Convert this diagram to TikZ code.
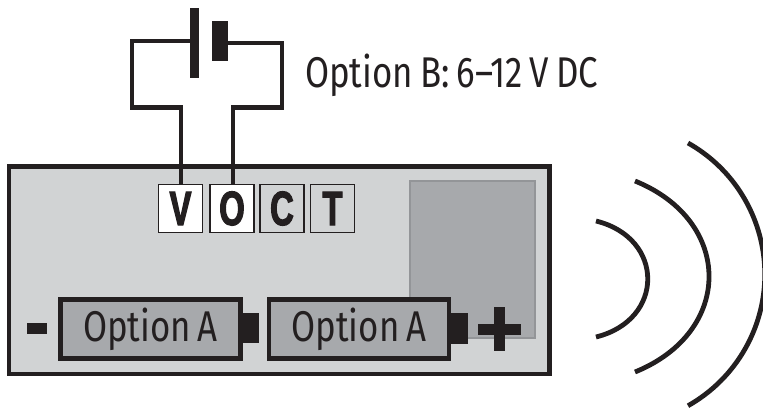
\documentclass[tikz,border=0pt]{standalone}
\usepackage{fontspec}
\setmainfont{Fira Sans}
\newfontfamily\labelfont[FakeStretch=0.81,WordSpace=0.75]{Fira Sans}
\newfontfamily\termfont[FakeStretch=0.68,FakeBold=2.5]{Liberation Sans Bold}
\definecolor{ink}{HTML}{231F20}
\definecolor{panel}{HTML}{D1D3D4}
\definecolor{cellgrey}{HTML}{A7A9AC}
\definecolor{edgegrey}{HTML}{939598}
\tikzset{
  wire/.style={draw=ink,line width=4.4pt,miter limit=10},
  solidblock/.style={fill=ink,draw=none,inner sep=0pt,rectangle},
  terminal/.style={rectangle,draw=ink,line width=1.6pt,minimum width=44pt,minimum height=48pt,inner sep=0pt,
     font=\termfont\fontsize{48}{48}\selectfont,text=ink},
  cell/.style={rectangle,draw=ink,fill=cellgrey,line width=4.6pt,minimum width=180pt,minimum height=59.5pt,inner sep=0pt,
     font=\labelfont\fontsize{43}{43}\selectfont,text=ink},
  wave/.style={draw=ink,line width=4.8pt}
}
\begin{document}
\begin{tikzpicture}[x=1pt,y=-1pt]
\useasboundingbox (0,0) rectangle (763,409);
% panel and window
\node[rectangle,draw=ink,fill=panel,line width=4.6pt,minimum width=540.5pt,minimum height=207.5pt,inner sep=0pt] (panel) at (279.25,270.25) {};
\node[rectangle,draw=edgegrey,fill=cellgrey,line width=1.8pt,minimum width=125pt,minimum height=157pt,inner sep=0pt] (window) at (472.5,259.5) {};
% terminals
\node[terminal,fill=white] (V) at (180.5,208.5) {V};
\node[terminal,fill=white] (O) at (232,208.5) {O};
\node[terminal,fill=panel] (C) at (282,208.5) {C};
\node[terminal,fill=panel] (T) at (332.5,208.5) {T};
% battery symbol
\node[solidblock,minimum width=9pt,minimum height=70pt] (plateL) at (194.5,43) {};
\node[solidblock,minimum width=16pt,minimum height=40pt] (plateR) at (220,41) {};
\coordinate (wl) at (plateL.west |- 0,41);
\coordinate (wr) at (plateR.east |- 0,43);
\draw[wire] (wl) -- (132,41) -- (132,107.5) -- (181,107.5) -- (V.north -| 181,0);
\draw[wire] (wr) -- (282,43) -- (282,107.5) -- (233,107.5) -- (O.north -| 233,0);
\node[anchor=base west,inner sep=0pt,font=\labelfont\fontsize{43}{43}\selectfont,text=ink] (optB) at (305,88) {Option B: 6–12 V DC};
% option A cells
\node[cell] (cellA) at (150.5,329) {\raisebox{-3pt}{Option A}};
\node[solidblock,minimum width=18pt,minimum height=30pt] (nubA) at (250,328) {};
\node[cell] (cellB) at (359,329) {\raisebox{-3pt}{Option A}};
\node[solidblock,minimum width=18pt,minimum height=31pt] (nubB) at (459,328.5) {};
% polarity
\node[solidblock,minimum width=20pt,minimum height=11pt] (minus) at (37,328.5) {};
\node[solidblock,minimum width=43pt,minimum height=11pt] (plusH) at (499.5,329.5) {};
\node[solidblock,minimum width=11pt,minimum height=44pt] (plusV) at (499.5,329) {};
% waves
\draw[wave] (596,221) .. controls (665,238) and (665,320) .. (596,337);
\draw[wave] (635,181) .. controls (733.7,221) and (733.7,332) .. (635,372);
\draw[wave] (688,143) arc[start angle=-60.6,end angle=60.6,x radius=150.8pt,y radius=-150.8pt];
\end{tikzpicture}
\end{document}
